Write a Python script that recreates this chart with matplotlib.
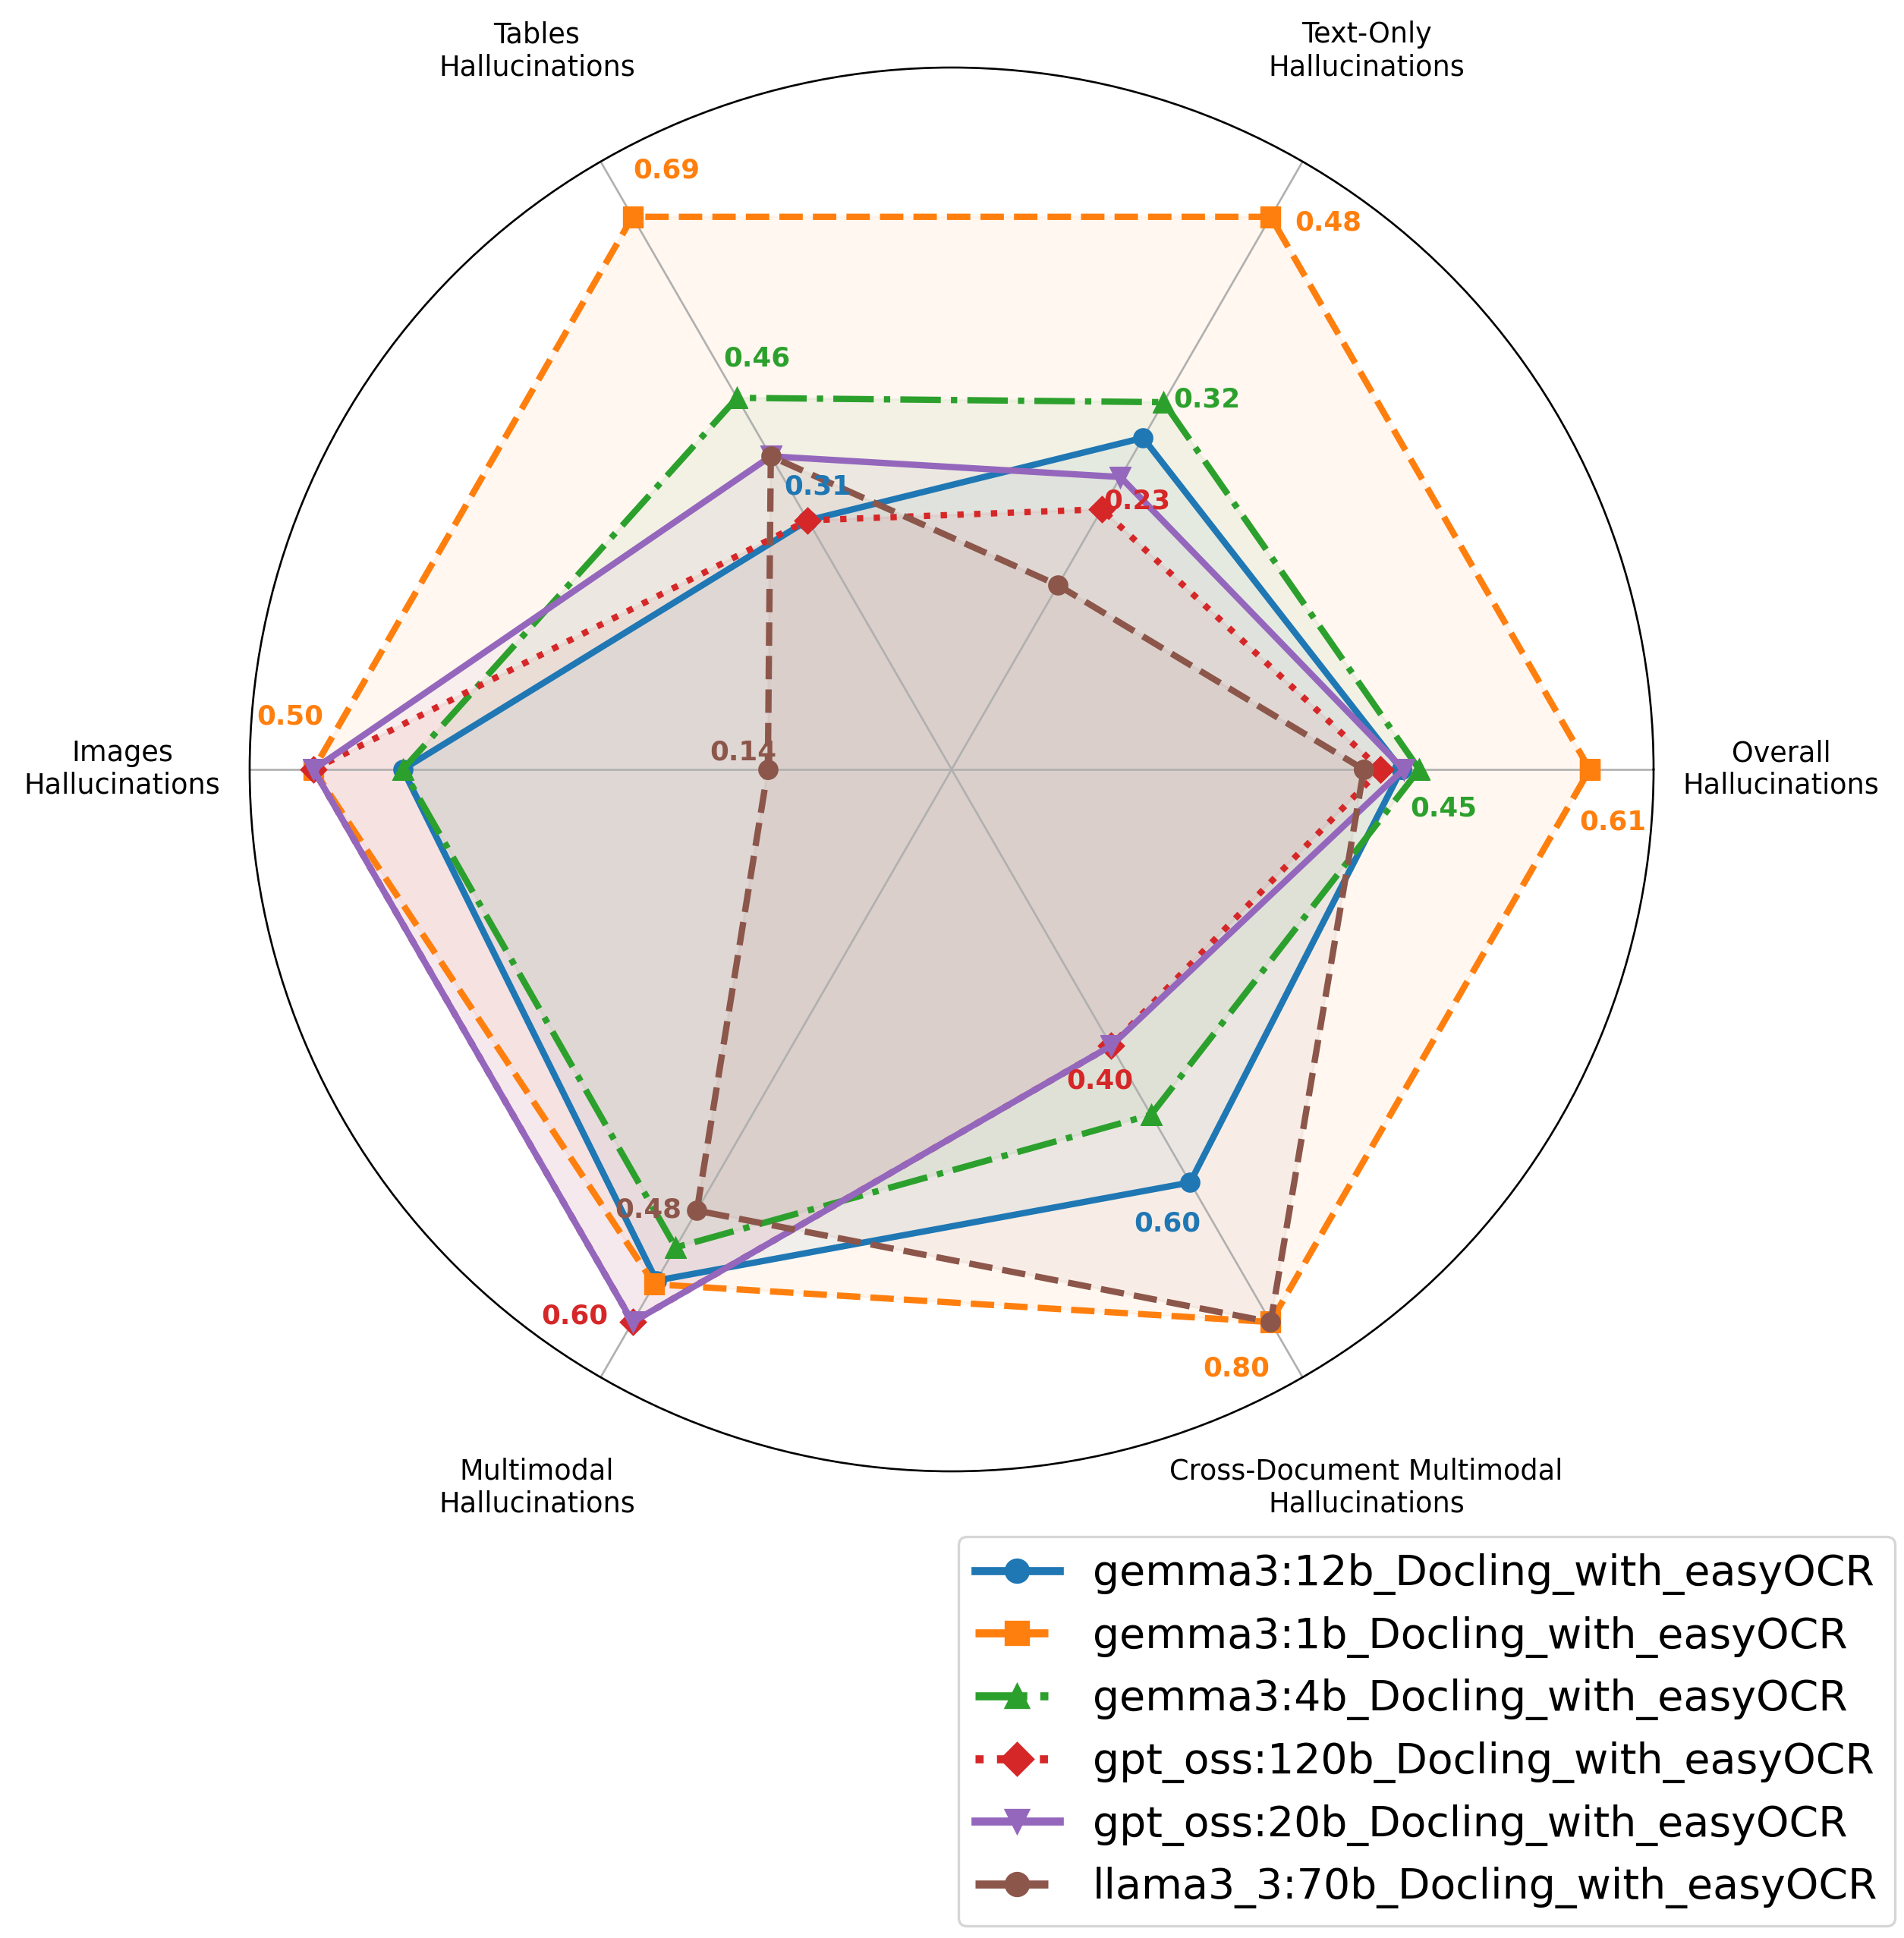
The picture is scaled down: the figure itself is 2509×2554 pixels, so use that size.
import matplotlib
matplotlib.use("Agg")
import matplotlib.pyplot as plt
import numpy as np

# axis categories (counter-clockwise from the right)
categories = ["Overall\nHallucinations", "Text-Only\nHallucinations",
              "Tables\nHallucinations", "Images\nHallucinations",
              "Multimodal\nHallucinations",
              "Cross-Document Multimodal\nHallucinations"]

# hallucination rates per model, same order as categories
models = ["gemma3:12b_Docling_with_easyOCR", "gemma3:1b_Docling_with_easyOCR",
          "gemma3:4b_Docling_with_easyOCR", "gpt_oss:120b_Docling_with_easyOCR",
          "gpt_oss:20b_Docling_with_easyOCR", "llama3_3:70b_Docling_with_easyOCR"]
gemma3_12b = [0.430, 0.288, 0.311, 0.430, 0.555, 0.598]
gemma3_1b = [0.610, 0.480, 0.690, 0.500, 0.559, 0.800]
gemma3_4b = [0.447, 0.319, 0.464, 0.430, 0.519, 0.500]
gpt_oss_120b = [0.410, 0.226, 0.311, 0.500, 0.600, 0.400]
gpt_oss_20b = [0.432, 0.254, 0.391, 0.500, 0.600, 0.400]
llama3_3_70b = [0.394, 0.160, 0.391, 0.144, 0.479, 0.800]

# which (model index, category index) values get a text label
labelled = [(1, 0), (2, 0),
            (1, 1), (2, 1), (3, 1),
            (1, 2), (2, 2), (0, 2),
            (1, 3), (5, 3),
            (3, 4), (5, 4),
            (1, 5), (0, 5), (3, 5)]

series = [gemma3_12b, gemma3_1b, gemma3_4b, gpt_oss_120b, gpt_oss_20b, llama3_3_70b]
colors = ['#1f77b4', '#ff7f0e', '#2ca02c', '#d62728', '#9467bd', '#8c564b']
styles = ['-', '--', '-.', ':', '-', '--']
markers = ['o', 's', '^', 'D', 'v', 'o']

data = np.array(series)
axis_max = data.max(axis=0)
norm = data / axis_max

n = len(categories)
angles = np.linspace(0, 2 * np.pi, n, endpoint=False)
closed = np.concatenate([angles, angles[:1]])

W, H, DPI = 2509, 2554, 240
fig = plt.figure(figsize=(W / DPI, H / DPI), dpi=DPI)
cx, cy, R = 1254, 1014, 925
ax = fig.add_axes([(cx - R) / W, (H - cy - R) / H, 2 * R / W, 2 * R / H],
                  projection='polar')

for i in range(len(series)):
    vals = np.concatenate([norm[i], norm[i][:1]])
    ax.plot(closed, vals, ls=styles[i], marker=markers[i], color=colors[i],
            lw=2.5, ms=7, label=models[i])
    ax.fill(closed, vals, color=colors[i], alpha=0.06)

for i, j in labelled:
    ax.text(angles[j] - 0.08, norm[i][j] + 0.04, f"{data[i][j]:.2f}",
            color=colors[i], fontsize=10.7, fontweight='bold',
            ha='center', va='center')

ax.set_ylim(0, 1.1)
ax.set_yticks([])
ax.set_xticks(angles)
ax.set_xticklabels([])
for j in range(n):
    ax.text(angles[j], 1.3, categories[j], fontsize=11, ha='center', va='center')

leg = ax.legend(loc='upper left', bbox_to_anchor=(1263 / W, 1 - 2025 / H),
                bbox_transform=fig.transFigure, borderaxespad=0, fontsize=16.6)
for h in leg.legend_handles:
    h.set_linewidth(3.2)
    h.set_markersize(9)

fig.savefig('out.png', dpi=DPI)
